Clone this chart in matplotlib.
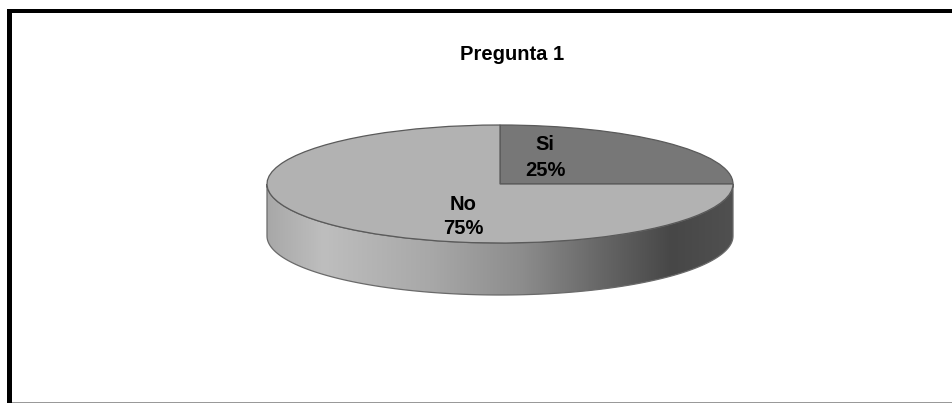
import numpy as np
import matplotlib
matplotlib.use('Agg')
import matplotlib.pyplot as plt
from matplotlib.colors import LinearSegmentedColormap
from matplotlib.patches import PathPatch, Rectangle
from matplotlib.path import Path

plt.rcParams['font.family'] = ['Liberation Sans', 'DejaVu Sans']

title = 'Pregunta 1'
categories = ['Si', 'No']
values = [25, 75]
slice_colors = ['#777777', '#b2b2b2']

W, H = 952, 403
fig = plt.figure(figsize=(W / 100, H / 100), dpi=100, facecolor='white')

# pie box in pixels: ellipse centre (500, 184), half axes 233 x 59, wall 52 deep
cx, cy, rx, ry, wall_px = 500, 184, 233, 59, 52
depth = wall_px / ry
ax = fig.add_axes([(cx - rx) / W, 1 - (cy + ry + wall_px) / H, 2 * rx / W, (2 * ry + wall_px) / H])
wedges, _ = ax.pie(values, colors=slice_colors, startangle=90, counterclock=False,
                   radius=1, wedgeprops={'edgecolor': '#5a5a5a', 'linewidth': 0.9})
for w in wedges:
    w.set_zorder(3)
    w.set_clip_on(False)

# side wall of the disc: a horizontal gradient clipped to the lower band
t = np.linspace(np.pi, 2 * np.pi, 200)
xs = np.cos(t)
ys = np.sin(t)
verts = list(zip(xs, ys)) + list(zip(xs[::-1], ys[::-1] - depth))
verts.append(verts[0])
codes = [Path.MOVETO] + [Path.LINETO] * (len(verts) - 2) + [Path.CLOSEPOLY]
wall_path = Path(verts, codes)
cmap = LinearSegmentedColormap.from_list('wall', [
    (0.0, '#a8a8a8'), (0.12, '#bebebe'), (0.35, '#a8a8a8'),
    (0.55, '#8c8c8c'), (0.72, '#666666'), (0.87, '#474747'), (1.0, '#505050')])
grad = ax.imshow(np.linspace(0, 1, 256).reshape(1, -1), cmap=cmap, aspect='auto',
                 extent=(-1, 1, -1 - depth, 1), zorder=2)
wall = PathPatch(wall_path, facecolor='none', edgecolor='#6a6a6a', linewidth=0.9, zorder=2.5, clip_on=False)
ax.add_patch(wall)
grad.set_clip_path(wall)
ax.set_aspect('auto')
ax.set_xlim(-1, 1)
ax.set_ylim(-1 - depth, 1)
ax.set_axis_off()


def px(x, y):
    return x / W, 1 - y / H


font = {'fontsize': 14.5, 'fontweight': 'bold', 'color': 'black', 'ha': 'center', 'va': 'center'}
fig.text(*px(512, 55), title, **font)
fig.text(*px(545, 144), categories[0], **font)
fig.text(*px(545, 170), f'{values[0]}%', **font)
fig.text(*px(463, 204), categories[1], **font)
fig.text(*px(463, 229), f'{values[1]}%', **font)

# outer frame: heavy top and left, thin grey bottom
fig.add_artist(Rectangle((7 / W, 0), 5 / W, 1 - 9 / H, transform=fig.transFigure, color='black', lw=0))
fig.add_artist(Rectangle((7 / W, 1 - 13 / H), 1 - 7 / W, 4 / H, transform=fig.transFigure, color='black', lw=0))
fig.add_artist(Rectangle((12 / W, 0), 1 - 12 / W, 1 / H, transform=fig.transFigure, color='#999999', lw=0))

fig.savefig('out.png', dpi=100, facecolor='white')
